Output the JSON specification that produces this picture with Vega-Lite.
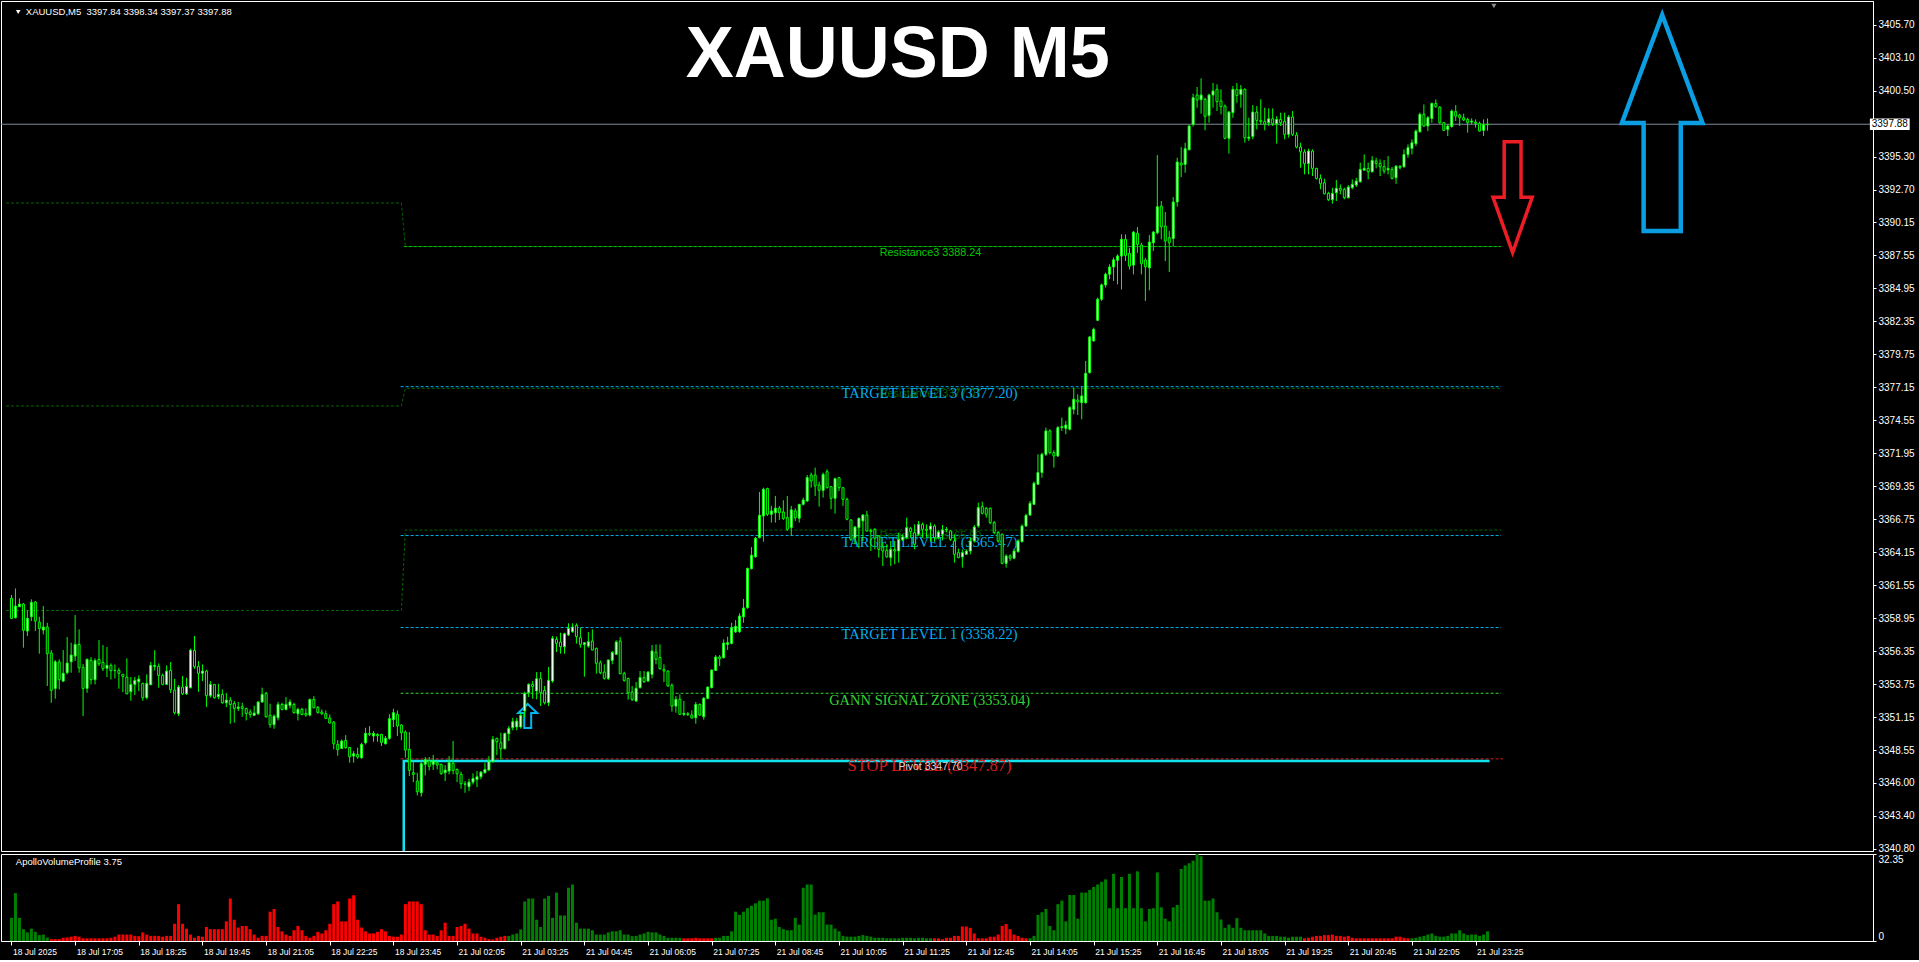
{
"$schema": "https://vega.github.io/schema/vega-lite/v6.json",
"background": "#000000",
"padding": {"left": 0, "top": 0, "right": 4, "bottom": 4},
"spacing": 3,
"bounds": "flush",
"resolve": {"scale": {"color": "independent"}},
"config": {"view": {"stroke": null}, "axis": {"title": null, "grid": false, "labelFont": "Liberation Sans", "labelColor": "#FFFFFF", "domainColor": "#FFFFFF", "tickColor": "#FFFFFF", "labelOverlap": false, "labelSeparation": 0}},
"datasets": {
"bars": [
{"t":0,"o":3360.52,"h":3360.78,"l":3358.94,"c":3358.94,"v":8.6,"s":"up"},
{"t":1,"o":3358.99,"h":3361.30,"l":3358.95,"c":3359.91,"v":17.8,"s":"up"},
{"t":2,"o":3359.86,"h":3360.52,"l":3359.86,"c":3360.07,"v":8.6,"s":"up"},
{"t":3,"o":3360.07,"h":3360.15,"l":3356.63,"c":3358.00,"v":4.4,"s":"up"},
{"t":4,"o":3357.94,"h":3359.57,"l":3357.55,"c":3358.94,"v":3.2,"s":"up"},
{"t":5,"o":3359.07,"h":3360.44,"l":3358.73,"c":3360.20,"v":4.6,"s":"up"},
{"t":6,"o":3360.23,"h":3360.31,"l":3357.94,"c":3358.73,"v":3.4,"s":"up"},
{"t":7,"o":3358.65,"h":3359.07,"l":3356.16,"c":3358.15,"v":2.2,"s":"up"},
{"t":8,"o":3358.02,"h":3359.91,"l":3357.68,"c":3358.26,"v":2.4,"s":"up"},
{"t":9,"o":3358.26,"h":3358.60,"l":3353.61,"c":3356.16,"v":1.3,"s":"up"},
{"t":10,"o":3356.21,"h":3356.44,"l":3352.29,"c":3353.27,"v":0.7,"s":"down"},
{"t":11,"o":3353.42,"h":3355.66,"l":3352.61,"c":3355.52,"v":0.7,"s":"down"},
{"t":12,"o":3355.50,"h":3355.71,"l":3353.34,"c":3354.11,"v":0.7,"s":"down"},
{"t":13,"o":3354.00,"h":3356.44,"l":3353.92,"c":3354.61,"v":1.2,"s":"down"},
{"t":14,"o":3354.66,"h":3357.47,"l":3354.53,"c":3355.42,"v":1.3,"s":"down"},
{"t":15,"o":3355.52,"h":3357.02,"l":3354.66,"c":3356.05,"v":1.6,"s":"down"},
{"t":16,"o":3355.97,"h":3359.20,"l":3355.58,"c":3356.89,"v":1.9,"s":"down"},
{"t":17,"o":3356.89,"h":3358.07,"l":3354.66,"c":3355.05,"v":1.6,"s":"down"},
{"t":18,"o":3355.08,"h":3355.34,"l":3351.24,"c":3353.42,"v":1.0,"s":"down"},
{"t":19,"o":3353.42,"h":3355.79,"l":3353.08,"c":3355.71,"v":1.0,"s":"down"},
{"t":20,"o":3355.63,"h":3355.89,"l":3353.74,"c":3354.11,"v":1.0,"s":"down"},
{"t":21,"o":3354.11,"h":3355.79,"l":3353.74,"c":3355.63,"v":1.0,"s":"down"},
{"t":22,"o":3355.71,"h":3357.23,"l":3355.18,"c":3355.37,"v":1.0,"s":"down"},
{"t":23,"o":3355.47,"h":3356.84,"l":3354.79,"c":3354.97,"v":1.0,"s":"down"},
{"t":24,"o":3355.00,"h":3356.68,"l":3354.32,"c":3355.24,"v":1.0,"s":"down"},
{"t":25,"o":3355.24,"h":3355.39,"l":3354.13,"c":3354.82,"v":1.2,"s":"down"},
{"t":26,"o":3354.84,"h":3355.31,"l":3354.21,"c":3354.82,"v":1.6,"s":"down"},
{"t":27,"o":3354.84,"h":3355.05,"l":3353.40,"c":3354.61,"v":2.4,"s":"down"},
{"t":28,"o":3354.53,"h":3354.55,"l":3353.13,"c":3354.37,"v":2.4,"s":"down"},
{"t":29,"o":3354.32,"h":3355.79,"l":3352.95,"c":3353.00,"v":2.4,"s":"down"},
{"t":30,"o":3353.16,"h":3354.32,"l":3352.45,"c":3353.74,"v":2.4,"s":"down"},
{"t":31,"o":3353.74,"h":3354.32,"l":3352.90,"c":3354.05,"v":1.9,"s":"down"},
{"t":32,"o":3353.95,"h":3354.45,"l":3353.21,"c":3354.16,"v":1.8,"s":"down"},
{"t":33,"o":3353.82,"h":3353.87,"l":3352.45,"c":3352.69,"v":3.2,"s":"down"},
{"t":34,"o":3352.69,"h":3354.53,"l":3352.56,"c":3353.82,"v":2.4,"s":"down"},
{"t":35,"o":3353.71,"h":3355.50,"l":3353.71,"c":3355.24,"v":1.9,"s":"down"},
{"t":36,"o":3355.16,"h":3356.44,"l":3354.84,"c":3355.24,"v":1.9,"s":"down"},
{"t":37,"o":3355.16,"h":3355.39,"l":3353.48,"c":3354.45,"v":1.9,"s":"down"},
{"t":38,"o":3354.45,"h":3354.58,"l":3353.66,"c":3353.74,"v":1.6,"s":"down"},
{"t":39,"o":3353.74,"h":3355.24,"l":3353.69,"c":3354.79,"v":1.9,"s":"down"},
{"t":40,"o":3354.84,"h":3355.50,"l":3353.06,"c":3353.32,"v":1.9,"s":"down"},
{"t":41,"o":3353.29,"h":3354.18,"l":3351.37,"c":3351.51,"v":6.4,"s":"down"},
{"t":42,"o":3351.43,"h":3353.69,"l":3351.24,"c":3353.53,"v":13.7,"s":"down"},
{"t":43,"o":3353.53,"h":3354.40,"l":3352.90,"c":3353.00,"v":6.4,"s":"down"},
{"t":44,"o":3353.00,"h":3354.26,"l":3352.90,"c":3353.58,"v":4.6,"s":"down"},
{"t":45,"o":3353.48,"h":3356.55,"l":3353.42,"c":3356.44,"v":2.4,"s":"down"},
{"t":46,"o":3356.42,"h":3357.55,"l":3354.97,"c":3355.13,"v":1.2,"s":"down"},
{"t":47,"o":3355.16,"h":3355.58,"l":3353.16,"c":3354.61,"v":1.9,"s":"down"},
{"t":48,"o":3354.61,"h":3355.31,"l":3354.00,"c":3354.79,"v":1.6,"s":"down"},
{"t":49,"o":3354.79,"h":3354.89,"l":3351.95,"c":3352.85,"v":5.2,"s":"down"},
{"t":50,"o":3352.85,"h":3354.00,"l":3352.69,"c":3353.74,"v":4.4,"s":"down"},
{"t":51,"o":3353.74,"h":3353.74,"l":3352.61,"c":3352.69,"v":4.4,"s":"down"},
{"t":52,"o":3352.77,"h":3353.79,"l":3352.56,"c":3352.95,"v":4.4,"s":"down"},
{"t":53,"o":3352.95,"h":3353.34,"l":3352.22,"c":3352.29,"v":4.4,"s":"down"},
{"t":54,"o":3352.29,"h":3353.06,"l":3351.95,"c":3352.50,"v":7.3,"s":"down"},
{"t":55,"o":3352.50,"h":3352.74,"l":3350.64,"c":3352.16,"v":15.8,"s":"down"},
{"t":56,"o":3352.24,"h":3352.43,"l":3350.72,"c":3351.85,"v":7.9,"s":"down"},
{"t":57,"o":3351.85,"h":3352.35,"l":3351.64,"c":3351.95,"v":5.0,"s":"down"},
{"t":58,"o":3351.98,"h":3352.29,"l":3351.19,"c":3351.85,"v":5.6,"s":"down"},
{"t":59,"o":3351.85,"h":3351.90,"l":3350.90,"c":3351.45,"v":5.6,"s":"down"},
{"t":60,"o":3351.56,"h":3351.77,"l":3351.11,"c":3351.37,"v":4.4,"s":"down"},
{"t":61,"o":3351.30,"h":3352.06,"l":3351.24,"c":3351.48,"v":2.4,"s":"down"},
{"t":62,"o":3351.43,"h":3352.43,"l":3351.32,"c":3352.35,"v":1.2,"s":"down"},
{"t":63,"o":3352.35,"h":3353.48,"l":3352.29,"c":3352.95,"v":1.9,"s":"down"},
{"t":64,"o":3353.03,"h":3353.16,"l":3351.11,"c":3351.19,"v":1.9,"s":"down"},
{"t":65,"o":3351.30,"h":3352.22,"l":3350.32,"c":3350.56,"v":10.9,"s":"down"},
{"t":66,"o":3350.56,"h":3351.37,"l":3350.24,"c":3351.24,"v":11.9,"s":"down"},
{"t":67,"o":3351.11,"h":3352.37,"l":3350.90,"c":3352.16,"v":5.2,"s":"down"},
{"t":68,"o":3352.16,"h":3352.29,"l":3351.69,"c":3351.77,"v":3.6,"s":"down"},
{"t":69,"o":3351.77,"h":3352.74,"l":3351.69,"c":3352.16,"v":2.4,"s":"down"},
{"t":70,"o":3352.08,"h":3352.56,"l":3351.85,"c":3352.35,"v":1.9,"s":"down"},
{"t":71,"o":3352.16,"h":3352.29,"l":3351.43,"c":3351.51,"v":4.0,"s":"down"},
{"t":72,"o":3351.43,"h":3351.90,"l":3350.90,"c":3351.77,"v":5.6,"s":"down"},
{"t":73,"o":3351.77,"h":3351.90,"l":3351.30,"c":3351.37,"v":4.0,"s":"down"},
{"t":74,"o":3351.45,"h":3351.85,"l":3351.19,"c":3351.32,"v":1.9,"s":"down"},
{"t":75,"o":3351.32,"h":3352.61,"l":3351.22,"c":3352.56,"v":1.2,"s":"down"},
{"t":76,"o":3352.56,"h":3352.82,"l":3351.85,"c":3351.90,"v":1.9,"s":"down"},
{"t":77,"o":3351.93,"h":3352.03,"l":3351.43,"c":3351.53,"v":3.4,"s":"down"},
{"t":78,"o":3351.56,"h":3351.77,"l":3351.32,"c":3351.43,"v":2.8,"s":"down"},
{"t":79,"o":3351.43,"h":3351.69,"l":3351.01,"c":3351.06,"v":4.0,"s":"down"},
{"t":80,"o":3351.09,"h":3351.37,"l":3350.66,"c":3350.69,"v":6.4,"s":"down"},
{"t":81,"o":3350.77,"h":3350.85,"l":3348.62,"c":3349.06,"v":13.7,"s":"down"},
{"t":82,"o":3349.01,"h":3349.35,"l":3348.12,"c":3348.59,"v":14.7,"s":"down"},
{"t":83,"o":3348.69,"h":3349.40,"l":3348.67,"c":3349.27,"v":7.3,"s":"down"},
{"t":84,"o":3349.32,"h":3349.74,"l":3348.67,"c":3348.75,"v":7.3,"s":"down"},
{"t":85,"o":3348.77,"h":3348.80,"l":3347.57,"c":3348.04,"v":15.8,"s":"down"},
{"t":86,"o":3348.09,"h":3348.48,"l":3347.57,"c":3348.27,"v":17.0,"s":"down"},
{"t":87,"o":3348.22,"h":3348.75,"l":3347.88,"c":3348.01,"v":7.9,"s":"down"},
{"t":88,"o":3347.96,"h":3349.14,"l":3347.88,"c":3349.01,"v":5.0,"s":"down"},
{"t":89,"o":3349.14,"h":3350.32,"l":3349.01,"c":3349.88,"v":3.6,"s":"down"},
{"t":90,"o":3349.88,"h":3350.45,"l":3349.67,"c":3349.80,"v":2.8,"s":"down"},
{"t":91,"o":3349.67,"h":3350.06,"l":3349.22,"c":3349.88,"v":2.8,"s":"down"},
{"t":92,"o":3349.80,"h":3349.88,"l":3349.22,"c":3349.69,"v":3.4,"s":"down"},
{"t":93,"o":3349.80,"h":3349.85,"l":3348.88,"c":3349.17,"v":4.4,"s":"down"},
{"t":94,"o":3349.06,"h":3349.67,"l":3349.01,"c":3349.49,"v":3.6,"s":"down"},
{"t":95,"o":3349.49,"h":3351.38,"l":3349.38,"c":3351.04,"v":1.9,"s":"down"},
{"t":96,"o":3350.96,"h":3351.82,"l":3350.38,"c":3351.51,"v":1.6,"s":"down"},
{"t":97,"o":3351.38,"h":3351.69,"l":3349.67,"c":3350.46,"v":1.6,"s":"down"},
{"t":98,"o":3350.54,"h":3350.59,"l":3349.33,"c":3349.93,"v":2.4,"s":"down"},
{"t":99,"o":3349.98,"h":3350.12,"l":3347.96,"c":3348.57,"v":13.7,"s":"down"},
{"t":100,"o":3348.62,"h":3349.98,"l":3346.52,"c":3346.96,"v":14.7,"s":"down"},
{"t":101,"o":3346.78,"h":3347.75,"l":3346.04,"c":3346.65,"v":14.7,"s":"down"},
{"t":102,"o":3346.12,"h":3346.78,"l":3344.99,"c":3345.28,"v":14.7,"s":"down"},
{"t":103,"o":3345.20,"h":3347.70,"l":3344.89,"c":3347.49,"v":13.7,"s":"down"},
{"t":104,"o":3347.44,"h":3348.01,"l":3346.57,"c":3347.80,"v":4.0,"s":"down"},
{"t":105,"o":3347.70,"h":3348.01,"l":3346.96,"c":3347.28,"v":2.4,"s":"down"},
{"t":106,"o":3347.44,"h":3348.17,"l":3346.99,"c":3347.70,"v":2.4,"s":"down"},
{"t":107,"o":3347.57,"h":3347.80,"l":3347.04,"c":3347.38,"v":1.9,"s":"down"},
{"t":108,"o":3347.44,"h":3347.49,"l":3346.62,"c":3346.70,"v":4.0,"s":"down"},
{"t":109,"o":3346.78,"h":3347.38,"l":3346.12,"c":3346.99,"v":6.8,"s":"down"},
{"t":110,"o":3346.91,"h":3348.09,"l":3346.65,"c":3347.57,"v":1.9,"s":"down"},
{"t":111,"o":3347.52,"h":3349.28,"l":3346.65,"c":3346.96,"v":1.9,"s":"down"},
{"t":112,"o":3347.04,"h":3347.12,"l":3346.04,"c":3346.70,"v":5.2,"s":"down"},
{"t":113,"o":3346.65,"h":3346.86,"l":3345.52,"c":3345.91,"v":5.6,"s":"down"},
{"t":114,"o":3345.91,"h":3346.12,"l":3345.20,"c":3345.86,"v":6.4,"s":"down"},
{"t":115,"o":3345.68,"h":3346.31,"l":3345.33,"c":3346.04,"v":4.6,"s":"down"},
{"t":116,"o":3346.04,"h":3346.73,"l":3345.86,"c":3346.33,"v":2.8,"s":"down"},
{"t":117,"o":3346.25,"h":3346.91,"l":3345.65,"c":3346.46,"v":2.8,"s":"down"},
{"t":118,"o":3346.46,"h":3346.91,"l":3346.25,"c":3346.83,"v":1.6,"s":"down"},
{"t":119,"o":3346.78,"h":3347.57,"l":3346.70,"c":3347.04,"v":1.2,"s":"down"},
{"t":120,"o":3346.99,"h":3348.09,"l":3346.91,"c":3347.70,"v":0.7,"s":"down"},
{"t":121,"o":3347.65,"h":3349.67,"l":3347.57,"c":3349.41,"v":0.6,"s":"down"},
{"t":122,"o":3349.49,"h":3349.54,"l":3348.17,"c":3349.22,"v":1.2,"s":"down"},
{"t":123,"o":3349.14,"h":3349.93,"l":3347.83,"c":3348.67,"v":1.6,"s":"down"},
{"t":124,"o":3348.67,"h":3349.93,"l":3348.62,"c":3349.88,"v":1.9,"s":"down"},
{"t":125,"o":3349.85,"h":3350.46,"l":3349.28,"c":3350.27,"v":1.9,"s":"up"},
{"t":126,"o":3350.33,"h":3351.11,"l":3350.12,"c":3350.80,"v":2.4,"s":"up"},
{"t":127,"o":3350.38,"h":3351.11,"l":3350.12,"c":3350.85,"v":2.8,"s":"up"},
{"t":128,"o":3350.38,"h":3351.51,"l":3350.25,"c":3351.30,"v":4.3,"s":"up"},
{"t":129,"o":3351.64,"h":3353.16,"l":3351.17,"c":3353.03,"v":14.7,"s":"up"},
{"t":130,"o":3353.08,"h":3353.82,"l":3352.74,"c":3353.74,"v":15.8,"s":"up"},
{"t":131,"o":3353.74,"h":3354.00,"l":3352.61,"c":3353.56,"v":15.8,"s":"up"},
{"t":132,"o":3353.22,"h":3354.71,"l":3352.56,"c":3354.19,"v":7.9,"s":"up"},
{"t":133,"o":3354.19,"h":3354.71,"l":3352.03,"c":3353.08,"v":5.2,"s":"up"},
{"t":134,"o":3353.27,"h":3353.61,"l":3352.16,"c":3352.30,"v":15.8,"s":"up"},
{"t":135,"o":3352.30,"h":3355.11,"l":3352.03,"c":3354.06,"v":16.8,"s":"up"},
{"t":136,"o":3354.00,"h":3357.55,"l":3353.87,"c":3357.37,"v":8.6,"s":"up"},
{"t":137,"o":3357.29,"h":3357.52,"l":3356.29,"c":3356.97,"v":18.0,"s":"up"},
{"t":138,"o":3357.08,"h":3357.81,"l":3356.16,"c":3356.71,"v":9.5,"s":"up"},
{"t":139,"o":3356.71,"h":3357.81,"l":3356.16,"c":3357.73,"v":9.5,"s":"up"},
{"t":140,"o":3357.63,"h":3358.55,"l":3357.55,"c":3358.15,"v":19.8,"s":"up"},
{"t":141,"o":3357.89,"h":3358.55,"l":3357.81,"c":3358.26,"v":21.0,"s":"up"},
{"t":142,"o":3358.39,"h":3358.55,"l":3356.95,"c":3357.50,"v":6.8,"s":"up"},
{"t":143,"o":3357.42,"h":3358.21,"l":3356.63,"c":3356.89,"v":4.6,"s":"up"},
{"t":144,"o":3356.89,"h":3357.02,"l":3354.35,"c":3357.02,"v":4.6,"s":"up"},
{"t":145,"o":3356.76,"h":3357.86,"l":3356.63,"c":3357.10,"v":4.6,"s":"up"},
{"t":146,"o":3357.16,"h":3358.08,"l":3356.42,"c":3356.45,"v":4.0,"s":"up"},
{"t":147,"o":3356.58,"h":3356.63,"l":3354.58,"c":3355.40,"v":2.4,"s":"up"},
{"t":148,"o":3355.45,"h":3355.63,"l":3354.53,"c":3354.66,"v":2.4,"s":"up"},
{"t":149,"o":3354.71,"h":3355.32,"l":3354.11,"c":3354.21,"v":2.4,"s":"up"},
{"t":150,"o":3354.21,"h":3355.71,"l":3354.08,"c":3355.66,"v":3.2,"s":"up"},
{"t":151,"o":3355.63,"h":3356.37,"l":3355.32,"c":3356.26,"v":3.6,"s":"up"},
{"t":152,"o":3356.11,"h":3357.21,"l":3356.05,"c":3357.08,"v":3.6,"s":"up"},
{"t":153,"o":3357.16,"h":3357.47,"l":3354.53,"c":3354.58,"v":4.0,"s":"up"},
{"t":154,"o":3354.61,"h":3354.74,"l":3353.95,"c":3354.06,"v":2.4,"s":"up"},
{"t":155,"o":3354.21,"h":3354.27,"l":3352.53,"c":3353.08,"v":2.4,"s":"up"},
{"t":156,"o":3353.14,"h":3353.61,"l":3352.43,"c":3352.56,"v":1.8,"s":"up"},
{"t":157,"o":3352.43,"h":3353.92,"l":3352.37,"c":3353.43,"v":1.9,"s":"up"},
{"t":158,"o":3353.48,"h":3354.79,"l":3353.43,"c":3354.29,"v":2.4,"s":"up"},
{"t":159,"o":3354.27,"h":3354.79,"l":3353.85,"c":3353.95,"v":2.8,"s":"up"},
{"t":160,"o":3354.00,"h":3354.79,"l":3353.95,"c":3354.71,"v":3.4,"s":"up"},
{"t":161,"o":3354.53,"h":3356.84,"l":3354.21,"c":3356.37,"v":3.2,"s":"up"},
{"t":162,"o":3356.29,"h":3356.89,"l":3355.32,"c":3355.71,"v":3.2,"s":"up"},
{"t":163,"o":3355.87,"h":3356.89,"l":3354.90,"c":3354.98,"v":2.4,"s":"up"},
{"t":164,"o":3354.92,"h":3355.32,"l":3353.92,"c":3354.79,"v":1.9,"s":"up"},
{"t":165,"o":3354.79,"h":3354.84,"l":3353.56,"c":3353.61,"v":1.2,"s":"up"},
{"t":166,"o":3353.66,"h":3353.82,"l":3351.59,"c":3352.03,"v":1.2,"s":"up"},
{"t":167,"o":3352.03,"h":3352.82,"l":3351.51,"c":3352.56,"v":1.2,"s":"up"},
{"t":168,"o":3352.56,"h":3352.95,"l":3351.35,"c":3351.38,"v":1.2,"s":"up"},
{"t":169,"o":3351.38,"h":3352.43,"l":3351.25,"c":3351.46,"v":1.0,"s":"down"},
{"t":170,"o":3351.43,"h":3351.56,"l":3351.25,"c":3351.35,"v":1.0,"s":"down"},
{"t":171,"o":3351.32,"h":3351.69,"l":3351.04,"c":3351.09,"v":1.0,"s":"down"},
{"t":172,"o":3351.11,"h":3352.35,"l":3350.64,"c":3352.16,"v":1.2,"s":"down"},
{"t":173,"o":3352.16,"h":3352.24,"l":3351.25,"c":3351.32,"v":1.0,"s":"down"},
{"t":174,"o":3351.19,"h":3352.74,"l":3350.96,"c":3352.64,"v":1.0,"s":"down"},
{"t":175,"o":3352.64,"h":3353.56,"l":3352.56,"c":3353.53,"v":1.0,"s":"down"},
{"t":176,"o":3353.48,"h":3354.92,"l":3353.43,"c":3354.87,"v":1.0,"s":"down"},
{"t":177,"o":3354.84,"h":3356.05,"l":3354.79,"c":3355.90,"v":1.2,"s":"up"},
{"t":178,"o":3355.90,"h":3356.05,"l":3355.19,"c":3355.76,"v":1.2,"s":"up"},
{"t":179,"o":3355.84,"h":3357.29,"l":3355.79,"c":3357.00,"v":1.9,"s":"up"},
{"t":180,"o":3356.89,"h":3357.50,"l":3356.45,"c":3357.02,"v":1.9,"s":"up"},
{"t":181,"o":3356.97,"h":3358.60,"l":3356.89,"c":3358.21,"v":3.6,"s":"up"},
{"t":182,"o":3357.87,"h":3358.81,"l":3357.79,"c":3358.31,"v":10.9,"s":"up"},
{"t":183,"o":3357.89,"h":3359.34,"l":3357.81,"c":3359.13,"v":9.7,"s":"up"},
{"t":184,"o":3359.07,"h":3360.47,"l":3358.60,"c":3359.76,"v":10.9,"s":"up"},
{"t":185,"o":3359.78,"h":3362.94,"l":3359.70,"c":3362.88,"v":12.2,"s":"up"},
{"t":186,"o":3362.86,"h":3364.56,"l":3362.80,"c":3363.91,"v":13.1,"s":"up"},
{"t":187,"o":3363.80,"h":3365.35,"l":3363.72,"c":3365.25,"v":14.0,"s":"up"},
{"t":188,"o":3365.30,"h":3368.90,"l":3365.25,"c":3367.06,"v":15.0,"s":"up"},
{"t":189,"o":3367.01,"h":3369.24,"l":3364.99,"c":3369.11,"v":15.0,"s":"up"},
{"t":190,"o":3369.17,"h":3369.24,"l":3367.01,"c":3367.14,"v":15.9,"s":"up"},
{"t":191,"o":3367.14,"h":3367.80,"l":3366.49,"c":3367.41,"v":7.9,"s":"up"},
{"t":192,"o":3367.27,"h":3368.59,"l":3366.49,"c":3367.62,"v":8.3,"s":"up"},
{"t":193,"o":3367.62,"h":3367.80,"l":3366.70,"c":3367.27,"v":5.2,"s":"up"},
{"t":194,"o":3367.33,"h":3368.25,"l":3366.70,"c":3366.80,"v":4.4,"s":"up"},
{"t":195,"o":3366.88,"h":3368.59,"l":3365.83,"c":3365.96,"v":4.0,"s":"up"},
{"t":196,"o":3366.09,"h":3367.80,"l":3365.44,"c":3367.49,"v":4.0,"s":"up"},
{"t":197,"o":3367.41,"h":3367.62,"l":3366.62,"c":3366.88,"v":8.6,"s":"up"},
{"t":198,"o":3366.83,"h":3367.93,"l":3366.49,"c":3367.93,"v":6.1,"s":"up"},
{"t":199,"o":3367.93,"h":3368.46,"l":3367.85,"c":3368.27,"v":19.8,"s":"up"},
{"t":200,"o":3368.19,"h":3370.24,"l":3368.11,"c":3370.03,"v":21.0,"s":"up"},
{"t":201,"o":3370.24,"h":3370.43,"l":3369.24,"c":3369.77,"v":21.0,"s":"up"},
{"t":202,"o":3370.24,"h":3370.82,"l":3368.59,"c":3369.38,"v":9.8,"s":"up"},
{"t":203,"o":3369.45,"h":3369.72,"l":3367.75,"c":3369.03,"v":10.7,"s":"up"},
{"t":204,"o":3369.03,"h":3370.43,"l":3368.46,"c":3370.29,"v":10.7,"s":"up"},
{"t":205,"o":3370.50,"h":3370.69,"l":3369.17,"c":3369.24,"v":6.1,"s":"up"},
{"t":206,"o":3369.32,"h":3369.38,"l":3367.54,"c":3368.40,"v":6.1,"s":"up"},
{"t":207,"o":3368.40,"h":3370.03,"l":3367.19,"c":3369.95,"v":4.6,"s":"up"},
{"t":208,"o":3370.03,"h":3370.08,"l":3368.98,"c":3369.24,"v":3.6,"s":"up"},
{"t":209,"o":3369.24,"h":3369.24,"l":3367.80,"c":3368.32,"v":1.9,"s":"up"},
{"t":210,"o":3368.32,"h":3368.46,"l":3366.67,"c":3366.75,"v":1.6,"s":"up"},
{"t":211,"o":3366.70,"h":3366.75,"l":3365.04,"c":3365.17,"v":1.6,"s":"up"},
{"t":212,"o":3365.30,"h":3366.22,"l":3364.78,"c":3366.14,"v":1.6,"s":"up"},
{"t":213,"o":3366.09,"h":3366.88,"l":3364.46,"c":3366.83,"v":1.9,"s":"up"},
{"t":214,"o":3366.62,"h":3367.14,"l":3365.04,"c":3367.09,"v":2.2,"s":"up"},
{"t":215,"o":3367.09,"h":3367.41,"l":3365.78,"c":3365.83,"v":1.9,"s":"up"},
{"t":216,"o":3365.88,"h":3366.01,"l":3364.25,"c":3365.78,"v":1.6,"s":"up"},
{"t":217,"o":3365.96,"h":3366.04,"l":3364.38,"c":3365.25,"v":1.2,"s":"up"},
{"t":218,"o":3365.44,"h":3365.51,"l":3363.73,"c":3364.38,"v":1.2,"s":"up"},
{"t":219,"o":3364.57,"h":3364.91,"l":3363.07,"c":3364.25,"v":1.2,"s":"up"},
{"t":220,"o":3364.30,"h":3364.78,"l":3363.73,"c":3363.78,"v":1.0,"s":"up"},
{"t":221,"o":3363.73,"h":3365.04,"l":3363.07,"c":3364.38,"v":1.0,"s":"up"},
{"t":222,"o":3364.38,"h":3365.04,"l":3363.20,"c":3364.25,"v":1.0,"s":"up"},
{"t":223,"o":3364.25,"h":3365.70,"l":3363.33,"c":3365.17,"v":1.0,"s":"up"},
{"t":224,"o":3365.12,"h":3365.57,"l":3365.04,"c":3365.36,"v":1.2,"s":"up"},
{"t":225,"o":3365.30,"h":3366.88,"l":3365.17,"c":3366.09,"v":1.2,"s":"up"},
{"t":226,"o":3366.04,"h":3366.14,"l":3365.30,"c":3365.78,"v":1.2,"s":"up"},
{"t":227,"o":3365.70,"h":3366.35,"l":3364.38,"c":3364.78,"v":1.0,"s":"up"},
{"t":228,"o":3365.57,"h":3366.62,"l":3365.44,"c":3366.35,"v":1.2,"s":"up"},
{"t":229,"o":3366.35,"h":3366.49,"l":3365.30,"c":3365.96,"v":1.2,"s":"up"},
{"t":230,"o":3365.96,"h":3366.35,"l":3365.30,"c":3365.88,"v":1.0,"s":"up"},
{"t":231,"o":3365.96,"h":3366.49,"l":3364.99,"c":3366.22,"v":1.0,"s":"up"},
{"t":232,"o":3366.22,"h":3366.35,"l":3364.99,"c":3365.30,"v":1.0,"s":"down"},
{"t":233,"o":3365.30,"h":3365.88,"l":3365.17,"c":3365.75,"v":1.0,"s":"down"},
{"t":234,"o":3365.57,"h":3366.30,"l":3365.09,"c":3365.91,"v":0.7,"s":"down"},
{"t":235,"o":3365.91,"h":3366.14,"l":3365.75,"c":3365.96,"v":1.2,"s":"down"},
{"t":236,"o":3365.83,"h":3365.88,"l":3365.04,"c":3365.17,"v":1.2,"s":"down"},
{"t":237,"o":3365.04,"h":3365.57,"l":3363.33,"c":3363.99,"v":1.9,"s":"down"},
{"t":238,"o":3364.12,"h":3364.44,"l":3363.68,"c":3363.73,"v":1.9,"s":"down"},
{"t":239,"o":3363.78,"h":3364.38,"l":3362.94,"c":3364.12,"v":5.4,"s":"down"},
{"t":240,"o":3363.99,"h":3364.38,"l":3363.94,"c":3364.25,"v":5.4,"s":"down"},
{"t":241,"o":3364.25,"h":3365.30,"l":3363.99,"c":3365.04,"v":4.9,"s":"down"},
{"t":242,"o":3365.04,"h":3366.30,"l":3364.91,"c":3366.14,"v":2.8,"s":"down"},
{"t":243,"o":3366.22,"h":3368.06,"l":3366.09,"c":3367.67,"v":1.0,"s":"down"},
{"t":244,"o":3367.75,"h":3368.14,"l":3367.14,"c":3367.22,"v":1.0,"s":"down"},
{"t":245,"o":3367.62,"h":3367.72,"l":3366.88,"c":3367.14,"v":1.0,"s":"down"},
{"t":246,"o":3367.62,"h":3367.67,"l":3366.35,"c":3366.49,"v":1.6,"s":"down"},
{"t":247,"o":3366.49,"h":3366.62,"l":3365.57,"c":3365.70,"v":1.6,"s":"down"},
{"t":248,"o":3365.70,"h":3365.83,"l":3364.91,"c":3365.04,"v":2.4,"s":"down"},
{"t":249,"o":3365.57,"h":3365.62,"l":3363.20,"c":3363.28,"v":5.6,"s":"down"},
{"t":250,"o":3363.28,"h":3363.99,"l":3362.94,"c":3363.86,"v":6.3,"s":"down"},
{"t":251,"o":3363.86,"h":3363.99,"l":3363.47,"c":3363.68,"v":4.4,"s":"down"},
{"t":252,"o":3363.68,"h":3364.38,"l":3363.60,"c":3364.25,"v":2.4,"s":"down"},
{"t":253,"o":3364.20,"h":3365.17,"l":3364.12,"c":3365.04,"v":1.9,"s":"down"},
{"t":254,"o":3364.99,"h":3366.35,"l":3364.91,"c":3366.22,"v":1.2,"s":"down"},
{"t":255,"o":3366.22,"h":3367.19,"l":3366.14,"c":3367.06,"v":1.0,"s":"down"},
{"t":256,"o":3367.09,"h":3368.19,"l":3367.01,"c":3368.01,"v":1.0,"s":"up"},
{"t":257,"o":3367.93,"h":3369.72,"l":3367.88,"c":3369.59,"v":1.9,"s":"up"},
{"t":258,"o":3369.51,"h":3371.87,"l":3369.45,"c":3370.43,"v":9.7,"s":"up"},
{"t":259,"o":3370.43,"h":3372.00,"l":3370.03,"c":3371.87,"v":10.7,"s":"up"},
{"t":260,"o":3371.87,"h":3373.97,"l":3371.74,"c":3373.71,"v":11.9,"s":"up"},
{"t":261,"o":3373.71,"h":3373.84,"l":3371.87,"c":3372.00,"v":5.6,"s":"up"},
{"t":262,"o":3372.00,"h":3372.19,"l":3370.82,"c":3371.74,"v":4.0,"s":"up"},
{"t":263,"o":3371.74,"h":3374.10,"l":3371.66,"c":3373.97,"v":13.7,"s":"up"},
{"t":264,"o":3373.97,"h":3374.76,"l":3373.71,"c":3374.05,"v":15.0,"s":"up"},
{"t":265,"o":3373.92,"h":3374.50,"l":3373.45,"c":3374.18,"v":7.3,"s":"up"},
{"t":266,"o":3373.84,"h":3375.68,"l":3373.76,"c":3375.55,"v":17.1,"s":"up"},
{"t":267,"o":3375.42,"h":3377.13,"l":3375.02,"c":3376.21,"v":17.1,"s":"up"},
{"t":268,"o":3376.15,"h":3376.60,"l":3374.97,"c":3376.00,"v":8.3,"s":"up"},
{"t":269,"o":3375.94,"h":3377.18,"l":3374.63,"c":3376.47,"v":18.0,"s":"up"},
{"t":270,"o":3375.94,"h":3379.23,"l":3375.86,"c":3378.25,"v":18.0,"s":"up"},
{"t":271,"o":3378.31,"h":3381.20,"l":3378.23,"c":3381.12,"v":19.0,"s":"up"},
{"t":272,"o":3380.80,"h":3381.85,"l":3380.75,"c":3381.72,"v":20.1,"s":"up"},
{"t":273,"o":3382.43,"h":3384.22,"l":3382.38,"c":3384.09,"v":21.0,"s":"up"},
{"t":274,"o":3384.09,"h":3385.32,"l":3383.96,"c":3385.22,"v":22.0,"s":"up"},
{"t":275,"o":3385.22,"h":3386.19,"l":3385.01,"c":3386.06,"v":22.9,"s":"up"},
{"t":276,"o":3386.06,"h":3386.84,"l":3385.66,"c":3386.63,"v":12.2,"s":"up"},
{"t":277,"o":3386.63,"h":3387.37,"l":3385.53,"c":3387.19,"v":25.0,"s":"up"},
{"t":278,"o":3387.16,"h":3387.63,"l":3385.27,"c":3387.50,"v":12.2,"s":"up"},
{"t":279,"o":3387.49,"h":3389.20,"l":3384.86,"c":3388.81,"v":23.8,"s":"up"},
{"t":280,"o":3388.81,"h":3389.20,"l":3387.10,"c":3387.54,"v":12.2,"s":"up"},
{"t":281,"o":3387.70,"h":3388.15,"l":3386.44,"c":3386.70,"v":25.0,"s":"up"},
{"t":282,"o":3386.78,"h":3389.46,"l":3386.05,"c":3389.38,"v":12.2,"s":"up"},
{"t":283,"o":3389.28,"h":3389.78,"l":3387.75,"c":3388.41,"v":25.9,"s":"up"},
{"t":284,"o":3388.36,"h":3388.54,"l":3386.05,"c":3386.89,"v":12.2,"s":"up"},
{"t":285,"o":3387.18,"h":3387.36,"l":3383.95,"c":3386.65,"v":7.3,"s":"up"},
{"t":286,"o":3386.57,"h":3389.15,"l":3384.79,"c":3388.60,"v":11.9,"s":"up"},
{"t":287,"o":3388.54,"h":3389.46,"l":3387.89,"c":3389.38,"v":12.2,"s":"up"},
{"t":288,"o":3389.33,"h":3395.45,"l":3389.20,"c":3391.38,"v":25.5,"s":"up"},
{"t":289,"o":3391.43,"h":3391.83,"l":3388.81,"c":3389.80,"v":12.5,"s":"up"},
{"t":290,"o":3389.86,"h":3390.96,"l":3387.10,"c":3388.67,"v":8.3,"s":"up"},
{"t":291,"o":3388.94,"h":3389.46,"l":3386.23,"c":3388.54,"v":7.3,"s":"up"},
{"t":292,"o":3388.88,"h":3392.14,"l":3388.28,"c":3391.75,"v":12.5,"s":"up"},
{"t":293,"o":3391.75,"h":3395.24,"l":3391.38,"c":3394.90,"v":13.4,"s":"up"},
{"t":294,"o":3394.82,"h":3396.08,"l":3393.72,"c":3394.66,"v":26.8,"s":"up"},
{"t":295,"o":3394.72,"h":3396.42,"l":3394.06,"c":3395.95,"v":28.1,"s":"up"},
{"t":296,"o":3395.87,"h":3397.82,"l":3395.82,"c":3397.74,"v":28.9,"s":"up"},
{"t":297,"o":3397.87,"h":3400.29,"l":3397.69,"c":3399.97,"v":29.9,"s":"up"},
{"t":298,"o":3400.18,"h":3400.81,"l":3399.18,"c":3399.79,"v":32.35,"s":"up"},
{"t":299,"o":3399.81,"h":3401.49,"l":3398.71,"c":3400.18,"v":31.5,"s":"up"},
{"t":300,"o":3399.84,"h":3399.97,"l":3397.40,"c":3398.50,"v":15.0,"s":"up"},
{"t":301,"o":3398.58,"h":3400.29,"l":3398.00,"c":3400.18,"v":15.0,"s":"up"},
{"t":302,"o":3400.18,"h":3401.13,"l":3399.18,"c":3400.50,"v":15.8,"s":"up"},
{"t":303,"o":3400.63,"h":3401.02,"l":3398.92,"c":3399.66,"v":10.7,"s":"up"},
{"t":304,"o":3399.71,"h":3400.63,"l":3398.66,"c":3399.26,"v":8.0,"s":"up"},
{"t":305,"o":3399.31,"h":3399.44,"l":3396.69,"c":3396.77,"v":4.9,"s":"up"},
{"t":306,"o":3396.77,"h":3398.92,"l":3395.56,"c":3398.84,"v":6.1,"s":"up"},
{"t":307,"o":3398.79,"h":3400.89,"l":3398.39,"c":3400.63,"v":4.9,"s":"up"},
{"t":308,"o":3400.63,"h":3401.13,"l":3399.58,"c":3400.15,"v":8.5,"s":"up"},
{"t":309,"o":3400.23,"h":3400.97,"l":3399.18,"c":3400.63,"v":4.9,"s":"up"},
{"t":310,"o":3400.63,"h":3400.71,"l":3396.42,"c":3396.82,"v":4.0,"s":"up"},
{"t":311,"o":3396.77,"h":3398.39,"l":3396.56,"c":3396.87,"v":4.0,"s":"up"},
{"t":312,"o":3396.92,"h":3399.39,"l":3396.69,"c":3398.84,"v":4.0,"s":"up"},
{"t":313,"o":3398.84,"h":3399.31,"l":3397.47,"c":3398.18,"v":4.0,"s":"up"},
{"t":314,"o":3398.18,"h":3399.84,"l":3397.87,"c":3398.08,"v":4.0,"s":"up"},
{"t":315,"o":3398.10,"h":3399.18,"l":3397.40,"c":3397.89,"v":2.8,"s":"up"},
{"t":316,"o":3398.00,"h":3399.13,"l":3397.74,"c":3398.31,"v":1.9,"s":"up"},
{"t":317,"o":3398.31,"h":3399.13,"l":3397.74,"c":3397.92,"v":1.9,"s":"up"},
{"t":318,"o":3397.92,"h":3398.52,"l":3396.35,"c":3398.26,"v":1.9,"s":"up"},
{"t":319,"o":3398.26,"h":3398.79,"l":3397.74,"c":3398.00,"v":1.6,"s":"up"},
{"t":320,"o":3398.10,"h":3398.79,"l":3396.69,"c":3397.08,"v":1.6,"s":"up"},
{"t":321,"o":3397.08,"h":3398.60,"l":3396.82,"c":3398.45,"v":1.2,"s":"up"},
{"t":322,"o":3398.45,"h":3398.92,"l":3396.95,"c":3397.08,"v":1.6,"s":"up"},
{"t":323,"o":3397.03,"h":3397.26,"l":3395.98,"c":3396.08,"v":1.6,"s":"up"},
{"t":324,"o":3396.08,"h":3396.42,"l":3394.45,"c":3395.71,"v":1.6,"s":"up"},
{"t":325,"o":3395.69,"h":3395.90,"l":3393.93,"c":3394.77,"v":1.0,"s":"down"},
{"t":326,"o":3394.77,"h":3395.95,"l":3393.93,"c":3395.77,"v":1.2,"s":"down"},
{"t":327,"o":3395.77,"h":3395.90,"l":3393.80,"c":3394.40,"v":1.6,"s":"down"},
{"t":328,"o":3394.40,"h":3394.45,"l":3393.53,"c":3393.61,"v":1.9,"s":"down"},
{"t":329,"o":3393.61,"h":3393.93,"l":3392.75,"c":3393.19,"v":1.9,"s":"down"},
{"t":330,"o":3393.27,"h":3393.59,"l":3392.35,"c":3392.40,"v":2.2,"s":"down"},
{"t":331,"o":3392.43,"h":3392.56,"l":3391.83,"c":3391.93,"v":2.2,"s":"down"},
{"t":332,"o":3391.93,"h":3392.88,"l":3391.62,"c":3392.43,"v":2.4,"s":"down"},
{"t":333,"o":3392.48,"h":3393.48,"l":3391.83,"c":3392.83,"v":1.9,"s":"down"},
{"t":334,"o":3392.83,"h":3393.14,"l":3392.35,"c":3392.67,"v":1.9,"s":"down"},
{"t":335,"o":3392.75,"h":3392.88,"l":3391.96,"c":3392.09,"v":1.6,"s":"down"},
{"t":336,"o":3392.09,"h":3393.09,"l":3392.04,"c":3392.93,"v":1.9,"s":"down"},
{"t":337,"o":3392.88,"h":3393.53,"l":3392.75,"c":3393.14,"v":1.2,"s":"down"},
{"t":338,"o":3393.09,"h":3393.66,"l":3392.93,"c":3393.40,"v":1.0,"s":"down"},
{"t":339,"o":3393.35,"h":3394.85,"l":3393.27,"c":3394.32,"v":1.0,"s":"down"},
{"t":340,"o":3394.27,"h":3395.50,"l":3394.19,"c":3394.40,"v":1.0,"s":"down"},
{"t":341,"o":3394.40,"h":3394.85,"l":3393.53,"c":3394.14,"v":1.0,"s":"down"},
{"t":342,"o":3394.14,"h":3395.37,"l":3394.06,"c":3395.03,"v":1.0,"s":"down"},
{"t":343,"o":3394.98,"h":3395.24,"l":3394.40,"c":3394.79,"v":1.0,"s":"down"},
{"t":344,"o":3394.79,"h":3395.11,"l":3393.80,"c":3394.53,"v":1.0,"s":"down"},
{"t":345,"o":3394.53,"h":3395.06,"l":3393.98,"c":3394.19,"v":1.0,"s":"down"},
{"t":346,"o":3394.29,"h":3395.37,"l":3393.93,"c":3394.40,"v":1.0,"s":"down"},
{"t":347,"o":3394.32,"h":3394.51,"l":3393.53,"c":3393.61,"v":1.0,"s":"down"},
{"t":348,"o":3393.66,"h":3394.64,"l":3393.19,"c":3394.58,"v":1.6,"s":"down"},
{"t":349,"o":3394.56,"h":3394.66,"l":3394.32,"c":3394.45,"v":1.6,"s":"down"},
{"t":350,"o":3394.53,"h":3395.90,"l":3394.45,"c":3395.50,"v":1.2,"s":"down"},
{"t":351,"o":3395.50,"h":3396.29,"l":3395.24,"c":3396.03,"v":1.0,"s":"down"},
{"t":352,"o":3395.98,"h":3396.69,"l":3395.50,"c":3396.42,"v":1.0,"s":"up"},
{"t":353,"o":3396.35,"h":3397.47,"l":3396.16,"c":3397.34,"v":1.2,"s":"up"},
{"t":354,"o":3397.29,"h":3398.79,"l":3397.21,"c":3398.66,"v":1.6,"s":"up"},
{"t":355,"o":3398.66,"h":3399.44,"l":3397.66,"c":3397.74,"v":1.9,"s":"up"},
{"t":356,"o":3397.74,"h":3398.52,"l":3397.34,"c":3398.39,"v":2.4,"s":"up"},
{"t":357,"o":3398.34,"h":3399.58,"l":3398.00,"c":3399.52,"v":2.8,"s":"up"},
{"t":358,"o":3399.52,"h":3399.84,"l":3399.18,"c":3399.26,"v":1.9,"s":"up"},
{"t":359,"o":3399.23,"h":3399.31,"l":3397.92,"c":3398.00,"v":1.6,"s":"up"},
{"t":360,"o":3398.00,"h":3398.05,"l":3397.34,"c":3397.40,"v":1.6,"s":"up"},
{"t":361,"o":3397.47,"h":3397.87,"l":3396.95,"c":3397.74,"v":1.9,"s":"up"},
{"t":362,"o":3397.69,"h":3399.05,"l":3397.61,"c":3398.92,"v":2.8,"s":"up"},
{"t":363,"o":3398.87,"h":3399.39,"l":3398.13,"c":3398.52,"v":2.8,"s":"up"},
{"t":364,"o":3398.60,"h":3398.71,"l":3397.74,"c":3398.39,"v":4.0,"s":"up"},
{"t":365,"o":3398.39,"h":3398.71,"l":3398.13,"c":3398.21,"v":2.8,"s":"up"},
{"t":366,"o":3398.26,"h":3398.39,"l":3397.21,"c":3398.00,"v":2.2,"s":"up"},
{"t":367,"o":3398.05,"h":3398.34,"l":3397.87,"c":3398.13,"v":2.4,"s":"up"},
{"t":368,"o":3398.05,"h":3398.26,"l":3397.61,"c":3397.95,"v":2.4,"s":"up"},
{"t":369,"o":3397.95,"h":3398.08,"l":3397.29,"c":3397.34,"v":1.9,"s":"up"},
{"t":370,"o":3397.40,"h":3398.26,"l":3396.95,"c":3397.84,"v":2.4,"s":"up"},
{"t":371,"o":3397.84,"h":3398.34,"l":3397.37,"c":3397.88,"v":3.6,"s":"up"}
],
"steps": [
{"name":"R3","t":-1.375,"p":3391.67,"ord":0},{"name":"R3","t":98,"p":3391.67,"ord":1},{"name":"R3","t":99,"p":3388.24,"ord":2},{"name":"R3","t":374.4,"p":3388.24,"ord":3},
{"name":"R2","t":-1.375,"p":3375.68,"ord":0},{"name":"R2","t":98,"p":3375.68,"ord":1},{"name":"R2","t":99,"p":3377.07,"ord":2},{"name":"R2","t":374.4,"p":3377.07,"ord":3},
{"name":"R1","t":-1.375,"p":3359.56,"ord":0},{"name":"R1","t":98,"p":3359.56,"ord":1},{"name":"R1","t":99,"p":3365.90,"ord":2},{"name":"R1","t":374.4,"p":3365.90,"ord":3}
],
"levels": [
{"kind":"r3","price":3388.24,"from":98.6,"to":374.4},
{"kind":"target","price":3377.20,"from":97.8,"to":374.4},
{"kind":"target","price":3365.47,"from":97.8,"to":374.4},
{"kind":"target","price":3358.22,"from":97.8,"to":374.4},
{"kind":"gann","price":3353.04,"from":97.8,"to":374.4},
{"kind":"stop","price":3347.87,"from":97.8,"to":374.9}
],
"pivot": [
{"t":98.6,"p":3335.0,"ord":0},{"t":98.6,"p":3347.70,"ord":1},{"t":371.5,"p":3347.70,"ord":2}
],
"notes": [
{"text":"TARGET LEVEL 3 (3377.20)","price":3377.20,"kind":"target"},
{"text":"TARGET LEVEL 2 (3365.47)","price":3365.47,"kind":"target"},
{"text":"TARGET LEVEL 1 (3358.22)","price":3358.22,"kind":"target"},
{"text":"GANN SIGNAL ZONE (3353.04)","price":3353.04,"kind":"gann"},
{"text":"STOP LEVEL (3347.87)","price":3347.87,"kind":"stop"}
],
"rnotes": [
{"text":"Resistance2 3377.07","price":3377.07,"kind":"dim"},
{"text":"Resistance1 3365.90","price":3365.90,"kind":"dim"},
{"text":"Resistance3 3388.24","price":3388.24,"kind":"r3"}
]
},
"vconcat": [
{
"width": 1872, "height": 850,
"view": {"stroke": "#FFFFFF", "strokeWidth": 1},
"layer": [
{"data": {"values": [{}]}, "mark": {"type": "rule", "color": "#7F8C99", "strokeWidth": 1},
 "encoding": {"y": {"datum": 3397.88, "type": "quantitative", "scale": {"domain": [3340.61, 3407.59], "nice": false, "zero": false},
   "axis": {"orient": "right", "values": [3405.70,3403.10,3400.50,3395.30,3392.70,3390.15,3387.55,3384.95,3382.35,3379.75,3377.15,3374.55,3371.95,3369.35,3366.75,3364.15,3361.55,3358.95,3356.35,3353.75,3351.15,3348.55,3346.00,3343.40,3340.80], "tickCount": 100, "format": ".2f", "labelFontSize": 10, "tickSize": 3, "labelPadding": 2, "labelOverlap": false, "labelSeparation": 0, "labelBound": false, "labelFlush": false, "domain": true}}}},
{"data": {"name": "steps"}, "mark": {"type": "line", "color": "#006400", "strokeWidth": 1, "strokeDash": [3, 2]},
 "encoding": {"x": {"field": "t", "type": "quantitative", "scale": {"domain": [-1.375, 466.625], "nice": false, "zero": false}, "axis": null},
   "y": {"field": "p", "type": "quantitative"}, "detail": {"field": "name"}, "order": {"field": "ord"}}},
{"data": {"name": "levels"}, "mark": {"type": "rule", "strokeWidth": 1, "strokeDash": [3, 2]},
 "encoding": {"x": {"field": "from", "type": "quantitative", "axis": null}, "x2": {"field": "to"},
   "y": {"field": "price", "type": "quantitative"},
   "color": {"field": "kind", "type": "nominal", "scale": {"domain": ["target", "gann", "stop", "r3", "dim"], "range": ["#00AEEF", "#36D336", "#D81E1E", "#00C800", "#006400"]}, "legend": null}}},
{"data": {"name": "pivot"}, "mark": {"type": "line", "color": "#12E2F0", "strokeWidth": 2.5, "clip": true},
 "encoding": {"x": {"field": "t", "type": "quantitative", "axis": null}, "y": {"field": "p", "type": "quantitative"}, "order": {"field": "ord"}}},
{"data": {"name": "rnotes"}, "mark": {"type": "text", "font": "Liberation Sans", "fontSize": 10.8, "align": "center", "baseline": "middle", "dy": 6},
 "encoding": {"x": {"datum": 231, "type": "quantitative", "axis": null}, "y": {"field": "price", "type": "quantitative"}, "text": {"field": "text"},
   "color": {"field": "kind", "type": "nominal", "legend": null}}},
{"data": {"name": "notes"}, "transform": [{"filter": "datum.kind != 'stop'"}], "mark": {"type": "text", "font": "Liberation Serif", "fontSize": 14.5, "align": "center", "baseline": "middle", "dy": 7.5},
 "encoding": {"x": {"datum": 230.75, "type": "quantitative", "axis": null}, "y": {"field": "price", "type": "quantitative"}, "text": {"field": "text"},
   "color": {"field": "kind", "type": "nominal", "legend": null}}},
{"data": {"name": "notes"}, "transform": [{"filter": "datum.kind == 'stop'"}], "mark": {"type": "text", "font": "Liberation Serif", "fontSize": 16.5, "align": "center", "baseline": "middle", "dy": 7.5},
 "encoding": {"x": {"datum": 230.75, "type": "quantitative", "axis": null}, "y": {"field": "price", "type": "quantitative"}, "text": {"field": "text"},
   "color": {"field": "kind", "type": "nominal", "legend": null}}},
{"data": {"values": [{"text": "Pivot 3347.70", "price": 3347.70}]}, "mark": {"type": "text", "font": "Liberation Sans", "fontSize": 10.5, "align": "center", "baseline": "middle", "dy": 6, "color": "#D8D8D8"},
 "encoding": {"x": {"datum": 231, "type": "quantitative", "axis": null}, "y": {"field": "price", "type": "quantitative"}, "text": {"field": "text"}}},
{"data": {"values": [{}]}, "mark": {"type": "point", "shape": "M0,-1 L0.79,-0.25 L0.29,-0.25 L0.29,1 L-0.29,1 L-0.29,-0.25 L-0.79,-0.25 Z", "size": 576, "filled": false, "stroke": "#00B4F0", "strokeWidth": 2, "opacity": 1, "strokeJoin": "miter"},
 "encoding": {"x": {"datum": 129.75, "type": "quantitative", "axis": null}, "y": {"datum": 3351.25, "type": "quantitative"}}},
{"data": {"values": [{}]}, "mark": {"type": "point", "shape": "M0,-1 L0.373,0 L0.172,0 L0.172,1 L-0.172,1 L-0.172,0 L-0.373,0 Z", "size": 46656, "filled": false, "stroke": "#0B9EE3", "strokeWidth": 4.5, "opacity": 1, "strokeJoin": "miter"},
 "encoding": {"x": {"datum": 414.9, "type": "quantitative", "axis": null}, "y": {"datum": 3397.98, "type": "quantitative"}}},
{"data": {"values": [{}]}, "mark": {"type": "point", "shape": "M-0.152,-1 L0.152,-1 L0.152,0 L0.354,0 L0,1 L-0.354,0 L-0.152,0 Z", "size": 12277, "filled": false, "stroke": "#EE1C25", "strokeWidth": 3.5, "opacity": 1, "strokeJoin": "miter"},
 "encoding": {"x": {"datum": 377.3, "type": "quantitative", "axis": null}, "y": {"datum": 3392.13, "type": "quantitative"}}},
{"data": {"values": [{}]}, "mark": {"type": "text", "text": "XAUUSD M5", "font": "Liberation Sans", "fontWeight": "bold", "fontSize": 72, "color": "#FFFFFF", "align": "center", "baseline": "alphabetic"},
 "encoding": {"x": {"datum": 222.75, "type": "quantitative", "axis": null}, "y": {"datum": 3401.60, "type": "quantitative"}}},
{"data": {"values": [{}]}, "mark": {"type": "text", "text": "XAUUSD,M5\u00a0\u00a03397.84 3398.34 3397.37 3397.88", "font": "Liberation Sans", "fontSize": 9.5, "color": "#FFFFFF", "align": "left", "baseline": "middle"},
 "encoding": {"x": {"datum": 3.6, "type": "quantitative", "axis": null}, "y": {"datum": 3406.72, "type": "quantitative"}}},
{"data": {"values": [{}]}, "mark": {"type": "point", "shape": "triangle-down", "size": 22, "filled": true, "color": "#FFFFFF", "opacity": 1},
 "encoding": {"x": {"datum": 1.7, "type": "quantitative", "axis": null}, "y": {"datum": 3406.72, "type": "quantitative"}}},
{"data": {"values": [{}]}, "mark": {"type": "point", "shape": "triangle-down", "size": 26, "filled": true, "color": "#8C8C8C", "opacity": 1},
 "encoding": {"x": {"datum": 372.6, "type": "quantitative", "axis": null}, "y": {"datum": 3407.2, "type": "quantitative"}}},
{"data": {"name": "bars"}, "mark": {"type": "rule", "color": "#00FF00", "strokeWidth": 1},
 "encoding": {"x": {"field": "t", "type": "quantitative", "axis": null}, "y": {"field": "l", "type": "quantitative"}, "y2": {"field": "h"}}},
{"data": {"name": "bars"}, "mark": {"type": "bar", "width": 2, "stroke": "#00FF00", "strokeWidth": 1},
 "encoding": {"x": {"field": "t", "type": "quantitative", "axis": null}, "y": {"field": "o", "type": "quantitative"}, "y2": {"field": "c"},
   "fill": {"condition": {"test": "datum.c >= datum.o", "value": "#FFFFFF"}, "value": "#000000"}}},
{"data": {"values": [{}]}, "mark": {"type": "rect", "fill": "#FFFFFF"},
 "encoding": {"x": {"datum": 467.1, "type": "quantitative", "axis": null}, "x2": {"datum": 477.1}, "y": {"datum": 3398.33, "type": "quantitative"}, "y2": {"datum": 3397.42}}},
{"data": {"values": [{}]}, "mark": {"type": "text", "text": "3397.88", "font": "Liberation Sans", "fontSize": 10, "color": "#000000", "align": "center", "baseline": "middle"},
 "encoding": {"x": {"datum": 472.1, "type": "quantitative", "axis": null}, "y": {"datum": 3397.88, "type": "quantitative"}}}
]
},
{
"width": 1872, "height": 87,
"view": {"stroke": "#FFFFFF", "strokeWidth": 1},
"layer": [
{"data": {"name": "bars"}, "mark": {"type": "bar", "width": 3},
 "encoding": {
   "x": {"field": "t", "type": "quantitative", "scale": {"domain": [-1.375, 466.625], "nice": false, "zero": false},
     "axis": {"orient": "bottom", "values": [0,16,32,48,64,80,96,112,128,144,160,176,192,208,224,240,256,272,288,304,320,336,352,368], "tickCount": 100,
       "labelExpr": "['18 Jul 2025','18 Jul 17:05','18 Jul 18:25','18 Jul 19:45','18 Jul 21:05','18 Jul 22:25','18 Jul 23:45','21 Jul 02:05','21 Jul 03:25','21 Jul 04:45','21 Jul 06:05','21 Jul 07:25','21 Jul 08:45','21 Jul 10:05','21 Jul 11:25','21 Jul 12:45','21 Jul 14:05','21 Jul 15:25','21 Jul 16:45','21 Jul 18:05','21 Jul 19:25','21 Jul 20:45','21 Jul 22:05','21 Jul 23:25'][round(datum.value/16)]",
       "labelAlign": "left", "labelFontSize": 8.5, "labelOffset": 1, "labelPadding": 2, "tickSize": 4, "labelOverlap": false, "labelBound": false, "labelFlush": false}},
   "y": {"field": "v", "type": "quantitative", "scale": {"domain": [0, 32.35], "nice": false, "zero": true},
     "axis": {"orient": "right", "values": [0, 32.35], "tickCount": 10, "format": ".2~f", "labelFlush": true, "tickSize": 3, "labelFontSize": 10, "labelPadding": 2}},
   "color": {"field": "s", "type": "nominal", "scale": {"domain": ["up", "down"], "range": ["#008000", "#FF0000"]}, "legend": null}}},
{"data": {"values": [{}]}, "mark": {"type": "text", "text": "ApolloVolumeProfile 3.75", "font": "Liberation Sans", "fontSize": 9.5, "color": "#FFFFFF", "align": "left", "baseline": "middle"},
 "encoding": {"x": {"datum": 1.1, "type": "quantitative"}, "y": {"datum": 29.2, "type": "quantitative"}}}
]
}
]
}
